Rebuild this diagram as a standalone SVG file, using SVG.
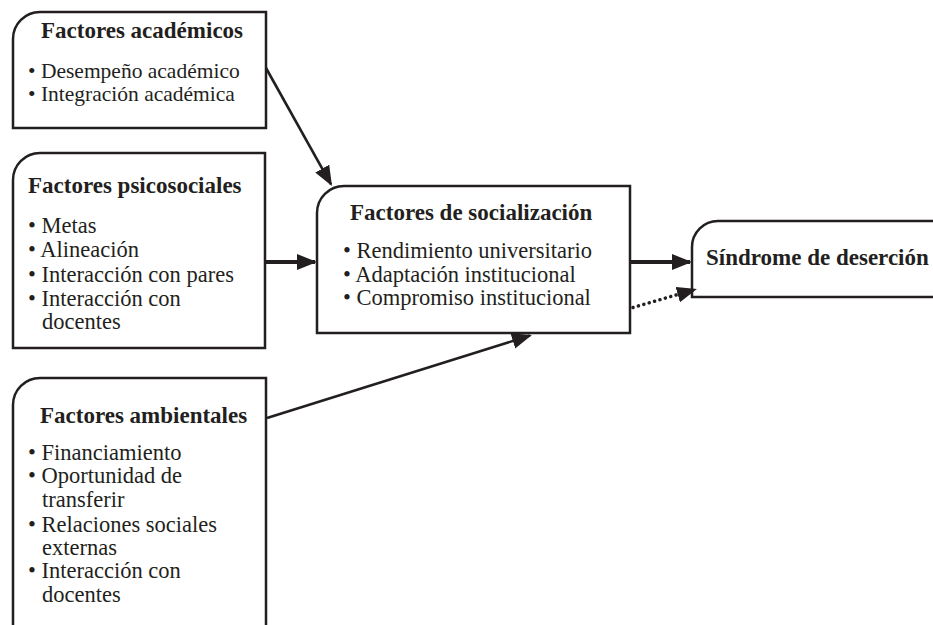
<svg xmlns="http://www.w3.org/2000/svg" width="933" height="625" viewBox="0 0 933 625">
<style>
.box{fill:#fff;stroke:#231f20;stroke-width:2.5;stroke-linejoin:miter}
.t{font-family:"Liberation Serif","Times New Roman",serif;fill:#231f20}
.h{font-size:23px;font-weight:bold}
.b{font-size:22.5px}
.s{font-size:21.5px}
.c{stroke:#231f20;fill:none}
</style>
<defs>
<marker id="ah" markerUnits="userSpaceOnUse" markerWidth="22" markerHeight="18" refX="18" refY="8" orient="auto">
<path d="M0,0 L20,8 L0,16 Z" fill="#231f20"/>
</marker>
</defs>
<rect width="933" height="625" fill="#fff"/>
<g id="academicos">
<path class="box" d="M13,128 V39 A27,27 0 0 1 40,12 H266 V128 Z"/>
<text class="t h" x="41" y="38">Factores académicos</text>
<text class="t s" x="28" y="78">• Desempeño académico</text>
<text class="t s" x="28" y="101">• Integración académica</text>
</g>
<g id="psicosociales">
<path class="box" d="M13,348 V180 A27,27 0 0 1 40,153 H265 V348 Z"/>
<text class="t h" x="28" y="193">Factores psicosociales</text>
<text class="t b" x="28" y="233">• Metas</text>
<text class="t b" x="28" y="257">• Alineación</text>
<text class="t b" x="28" y="282">• Interacción con pares</text>
<text class="t b" x="28" y="306">• Interacción con</text>
<text class="t b" x="42" y="329">docentes</text>
</g>
<g id="ambientales">
<path class="box" d="M13,640 V405 A27,27 0 0 1 40,378 H266 V640"/>
<text class="t h" x="40" y="423">Factores ambientales</text>
<text class="t b" x="28" y="460">• Financiamiento</text>
<text class="t b" x="28" y="483">• Oportunidad de</text>
<text class="t b" x="42" y="507">transferir</text>
<text class="t b" x="28" y="532">• Relaciones sociales</text>
<text class="t b" x="42" y="555">externas</text>
<text class="t b" x="28" y="578">• Interacción con</text>
<text class="t b" x="42" y="602">docentes</text>
</g>
<g id="socializacion">
<path class="box" d="M317,333 V213 A27,27 0 0 1 344,186 H630 V333 Z"/>
<text class="t h" x="350" y="220">Factores de socialización</text>
<text class="t b" x="343" y="258">• Rendimiento universitario</text>
<text class="t b" x="343" y="282">• Adaptación institucional</text>
<text class="t b" x="343" y="305">• Compromiso institucional</text>
</g>
<g id="desercion">
<path class="box" d="M940,297 H692 V247 A26,26 0 0 1 718,221 H940"/>
<text class="t h" x="706" y="265">Síndrome de deserción</text>
</g>
<g id="connectors">
<line class="c" x1="266" y1="68" x2="331" y2="184.3" stroke-width="2.6" marker-end="url(#ah)"/>
<line class="c" x1="266" y1="262" x2="315" y2="262" stroke-width="4" marker-end="url(#ah)"/>
<line class="c" x1="267" y1="418" x2="530" y2="335.6" stroke-width="2.6" marker-end="url(#ah)"/>
<line class="c" x1="631" y1="262" x2="690" y2="262" stroke-width="4" marker-end="url(#ah)"/>
<line class="c" x1="633" y1="307.5" x2="695" y2="289.5" stroke-width="3.5" stroke-dasharray="0.1 5.5" stroke-linecap="round" marker-end="url(#ah)"/>
</g>
</svg>
